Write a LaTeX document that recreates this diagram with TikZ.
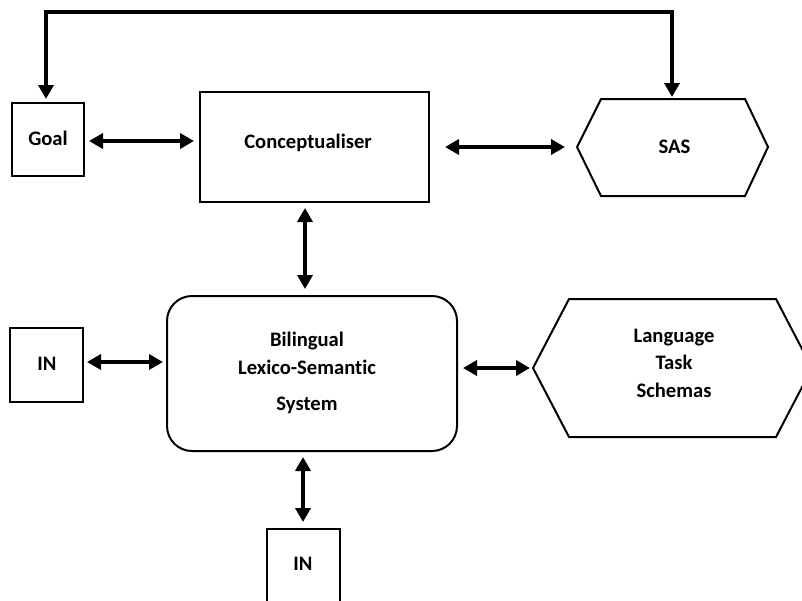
\documentclass[tikz,border=0pt]{standalone}
\usepackage{fontspec}
\setmainfont{Carlito}[Ligatures=NoCommon]
\usetikzlibrary{arrows.meta}
\begin{document}
\begin{tikzpicture}[x=1pt,y=-1pt,
  box/.style={draw, line width=2pt, inner sep=0pt},
  hexa/.style={draw, line width=2pt, line join=miter},
  lbl/.style={font=\bfseries\fontsize{20.6}{24}\selectfont, anchor=base, inner sep=0pt},
  dbl/.style={line width=4pt, {Triangle[length=14pt,width=15pt]}-{Triangle[length=14pt,width=15pt]}},
]
\useasboundingbox (0,0) rectangle (802,600);

% boxes
\node[box, minimum width=72pt, minimum height=73pt] (goal) at (48,139.5) {};
\node[box, minimum width=229pt, minimum height=110pt] (conc) at (314.5,147) {};
\node[box, rounded corners=25pt, minimum width=290pt, minimum height=155pt] (blss) at (312,373.5) {};
\node[box, minimum width=73pt, minimum height=74pt] (inl) at (46.5,365) {};
\node[box, minimum width=73pt, minimum height=90pt] (inb) at (303.5,574) {};

% hexagons
\draw[hexa] (577,147) -- (601,99) -- (745,99) -- (768,147) -- (745,196) -- (601,196) -- cycle;
\coordinate (sasW) at (577,147);
\coordinate (sasN) at (672,99);
\draw[hexa] (533,368) -- (569,299) -- (776,299) -- (812,368) -- (776,437) -- (569,437) -- cycle;
\coordinate (ltsW) at (533,368);

% labels
\node[lbl] (tgoal) at (48,145) {Goal};
\node[lbl] (tconc) at (308,148) {Conceptualiser};
\node[lbl] (tsas) at (674.5,153) {SAS};
\node[lbl] (tb1) at (307,346) {Bilingual};
\node[lbl] (tb2) at (307,374) {Lexico-Semantic};
\node[lbl] (tb3) at (307,410) {System};
\node[lbl] (tl1) at (674,342) {Language};
\node[lbl] (tl2) at (674,369) {Task};
\node[lbl] (tl3) at (674,397) {Schemas};
\node[lbl] (tinl) at (47,370) {IN};
\node[lbl] (tinb) at (303,570) {IN};

% helper coordinates
\coordinate (h1) at (0,141);
\coordinate (h2) at (0,362);
\coordinate (h3) at (0,368);
\coordinate (v1) at (305,0);
\coordinate (v2) at (303,0);
\coordinate (topy) at (0,12);
\coordinate (fbL) at (46,0);

% connectors
\draw[dbl, shorten <=4pt, shorten >=5pt] (goal.east |- h1) -- (conc.west |- h1);
\draw[dbl, shorten <=15pt, shorten >=12pt] (conc.east) -- (sasW);
\draw[dbl, shorten <=5pt, shorten >=6pt] (conc.south -| v1) -- (blss.north -| v1);
\draw[dbl, shorten <=3pt, shorten >=3pt] (inl.east |- h2) -- (blss.west |- h2);
\draw[dbl, shorten <=5pt, shorten >=3pt] (blss.east |- h3) -- (ltsW);
\draw[dbl, shorten <=5pt, shorten >=6pt] (blss.south -| v2) -- (inb.north -| v2);
\draw[dbl, shorten <=2pt, shorten >=3pt] (sasN) -- (sasN |- topy) -- (fbL |- topy) -- (fbL |- goal.north);
\end{tikzpicture}
\end{document}
